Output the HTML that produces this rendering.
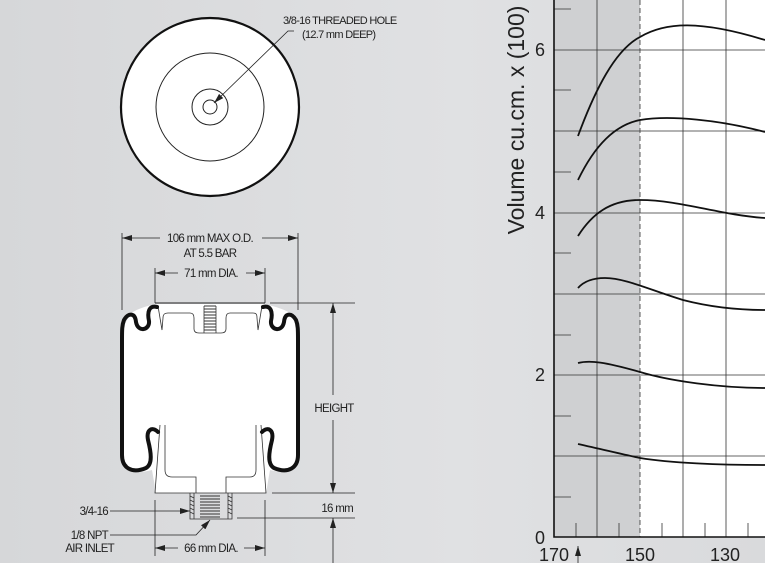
<!DOCTYPE html>
<html><head><meta charset="utf-8"><style>
html,body{margin:0;padding:0;width:765px;height:563px;overflow:hidden;background:#dcdddf;}
svg{display:block}
text{font-family:"Liberation Sans",sans-serif;fill:#222;}
</style></head><body>
<svg width="765" height="563" viewBox="0 0 765 563" xmlns="http://www.w3.org/2000/svg">
<defs>
<linearGradient id="bg" x1="0" y1="0" x2="1" y2="0"><stop offset="0" stop-color="#d6d7d9"/><stop offset="0.6" stop-color="#e0e1e3"/><stop offset="1" stop-color="#d9dadc"/></linearGradient>
<marker id="ar" viewBox="0 0 10 6" refX="10" refY="3" markerWidth="10" markerHeight="6" orient="auto" markerUnits="userSpaceOnUse"><path d="M0,0 L10,3 L0,6 Z" fill="#222"/></marker>
</defs>
<rect width="765" height="563" fill="url(#bg)"/>

<circle cx="210" cy="107" r="89" fill="#fff" stroke="#111" stroke-width="2.2"/>
<circle cx="210" cy="107" r="54" fill="none" stroke="#222" stroke-width="1"/>
<circle cx="210" cy="107" r="18" fill="none" stroke="#222" stroke-width="1"/>
<circle cx="210" cy="107" r="7" fill="none" stroke="#222" stroke-width="1"/>
<path d="M294,31 L288,31 L214,103" fill="none" stroke="#222" stroke-width="0.8" marker-end="url(#ar)"/>
<text x="283" y="24" font-size="11" letter-spacing="-0.7">3/8-16 THREADED HOLE</text>
<text x="302" y="38" font-size="11" letter-spacing="-0.7">(12.7 mm DEEP)</text>

<path d="M130,314 C138,308 150,305 158,304 L262,304 C270,305 282,308 292,314 L298,330 L298,460 C296,472 285,474 270,470 L266,493 L156,493 L152,470 C138,474 124,472 122,460 L122,330 Z" fill="#fff"/>
<path d="M155,303 L265,303" stroke="#222" stroke-width="1"/>
<path d="M158,306 L162,330 L163,318 C163,314 165,313 168,313 L190,313 C193,313 194,315 194,318 L194,329 C194,332 196,333 199,333 L221,333 C224,333 226,332 226,329 L226,318 C226,315 227,313 230,313 L253,313 C256,313 257,314 257,318 L258,330 L262,306" fill="none" stroke="#333" stroke-width="0.8"/>
<path d="M165,425 L165,470 C165,475 168,477 172,477 L196,477 L196,493 M226,493 L226,477 L250,477 C254,477 256,475 256,470 L256,425" fill="none" stroke="#333" stroke-width="0.8"/>
<path d="M160,425 L155,493 L266,493 L261,425" fill="none" stroke="#333" stroke-width="0.8"/>
<g stroke="#333" stroke-width="1">
<path d="M204,306 L216,306 M204,309 L216,309 M204,312 L216,312 M204,315 L216,315 M204,318 L216,318 M204,321 L216,321 M204,324 L216,324 M204,327 L216,327 M204,330 L216,330"/>
<path d="M204,306 L204,333 M216,306 L216,333" stroke-width="0.8"/>
<path d="M200,496 L220,496 M200,499 L220,499 M200,502 L220,502 M200,505 L220,505 M200,508 L220,508 M200,511 L220,511 M200,514 L220,514 M200,517 L220,517"/>
<path d="M190,493 L190,519 L232,519 L232,493 M194,493 L194,519 M228,493 L228,519" stroke-width="0.8" fill="none"/>
<path d="M190,496 L194,498 M190,500 L194,502 M190,504 L194,506 M190,508 L194,510 M190,512 L194,514 M228,496 L232,498 M228,500 L232,502 M228,504 L232,506 M228,508 L232,510 M228,512 L232,514" stroke-width="0.7"/>
</g>
<g fill="none" stroke="#111" stroke-width="4" stroke-linecap="round">
<path d="M157,307 C149,305 147,312 149,321 C150,330 138,333 136,322 C135,312 128,313 124,320 C122,325 122,330 122,340 L122,455 C122,468 132,474 146,468 C153,464 151,452 148,440 C146,430 152,426 158,432"/>
<path d="M263,307 C271,305 273,312 271,321 C270,330 282,333 284,322 C285,312 292,313 296,320 C298,325 298,330 298,340 L298,455 C298,468 288,474 274,468 C267,464 269,452 272,440 C274,430 268,426 262,432"/>
</g>

<g stroke="#222" stroke-width="0.8" fill="none">
<path d="M122,233 L122,310 M298,233 L298,310"/>
<path d="M160,238 L122,238" marker-end="url(#ar)"/>
<path d="M262,238 L298,238" marker-end="url(#ar)"/>
<path d="M155,268 L155,303 M265,268 L265,303"/>
<path d="M178,273 L155,273" marker-end="url(#ar)"/>
<path d="M246,273 L265,273" marker-end="url(#ar)"/>
<path d="M270,303 L355,303 M272,493 L355,493 M237,518 L355,518"/>
<path d="M333,395 L333,303" marker-end="url(#ar)"/>
<path d="M333,420 L333,493" marker-end="url(#ar)"/>
<path d="M333,563 L333,518" marker-end="url(#ar)"/>
<path d="M110,511 L190,511" marker-end="url(#ar)"/>
<path d="M110,535 L196,535 L210,520" marker-end="url(#ar)"/>
<path d="M155,500 L155,556 M265,500 L265,556"/>
<path d="M178,548 L155,548" marker-end="url(#ar)"/>
<path d="M244,548 L265,548" marker-end="url(#ar)"/>
</g>
<g font-size="11.5" letter-spacing="-0.7">
<text x="210" y="242" text-anchor="middle">106 mm MAX O.D.</text>
<text x="210" y="257" text-anchor="middle">AT 5.5 BAR</text>
<text x="211" y="277" text-anchor="middle">71 mm DIA.</text>
<text x="334" y="412" text-anchor="middle">HEIGHT</text>
<text x="353" y="512" text-anchor="end">16 mm</text>
<text x="108" y="515" text-anchor="end">3/4-16</text>
<text x="108" y="539" text-anchor="end">1/8 NPT</text>
<text x="114" y="552" text-anchor="end">AIR INLET</text>
<text x="211" y="552" text-anchor="middle">66 mm DIA.</text>
</g>

<rect x="554" y="0" width="86" height="537" fill="#cfd0d2"/>
<rect x="640" y="0" width="125" height="537" fill="#fff"/>
<g stroke="#333" stroke-width="0.8">
<path d="M554,50 L765,50 M554,131 L765,131 M554,213 L765,213 M554,294 L765,294 M554,375 L765,375 M554,456 L765,456"/>
<path d="M597,0 L597,537 M683,0 L683,537 M726,0 L726,537"/>
<path d="M640,0 L640,537" stroke-dasharray="5,3"/>
<path d="M554,9 L571,9 M554,90 L571,90 M554,172 L571,172 M554,253 L571,253 M554,335 L571,335 M554,416 L571,416 M554,497 L571,497"/>
<path d="M576,537 L576,523 M619,537 L619,523 M662,537 L662,523 M705,537 L705,523 M748,537 L748,523"/>
</g>
<path d="M554,0 L554,537 L765,537" fill="none" stroke="#111" stroke-width="1.6"/>
<path d="M578,563 L578,546" stroke="#222" stroke-width="0.8" marker-end="url(#ar)"/>
<g fill="none" stroke="#111" stroke-width="1.8">
<path d="M578,136 C595,90 615,50 640,37 C665,22 700,20 765,40"/>
<path d="M578,180 C595,145 615,125 640,120 C670,115 720,120 765,132"/>
<path d="M578,236 C592,214 610,200 640,200 C680,200 720,215 765,218"/>
<path d="M578,288 C585,280 595,278 605,278 C625,278 650,290 683,300 C710,307 740,310 765,310"/>
<path d="M578,363 C590,360 605,362 640,372 C670,381 720,388 765,388"/>
<path d="M578,444 C605,450 625,455 640,458 C670,463 720,465 765,465"/>
</g>
<g font-size="18">
<text x="545" y="56" text-anchor="end">6</text>
<text x="545" y="219" text-anchor="end">4</text>
<text x="545" y="381" text-anchor="end">2</text>
<text x="545" y="544" text-anchor="end">0</text>
<text x="554" y="561" text-anchor="middle">170</text>
<text x="640" y="561" text-anchor="middle">150</text>
<text x="725" y="561" text-anchor="middle">130</text>
</g>
<text transform="translate(524,120) rotate(-90)" font-size="23" text-anchor="middle">Volume cu.cm. x (100)</text>
</svg>
</body></html>
